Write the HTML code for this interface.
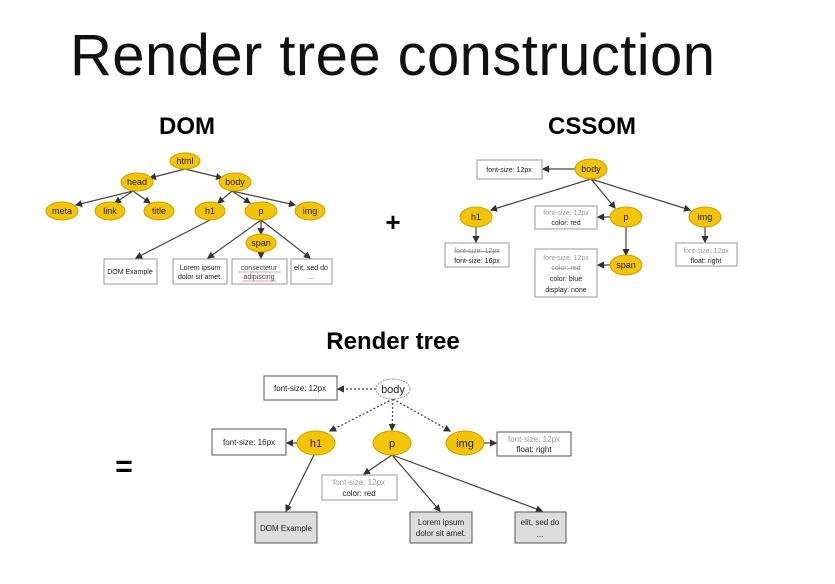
<!DOCTYPE html>
<html><head><style>
html,body{margin:0;padding:0;background:#fff;}
svg{display:block;font-family:"Liberation Sans",sans-serif;}
</style></head><body>
<svg width="835" height="584" viewBox="0 0 835 584" xmlns="http://www.w3.org/2000/svg">
<defs>
<marker id="a" markerWidth="6" markerHeight="6" refX="5" refY="3" orient="auto"><path d="M0,0 L6,3 L0,6 z" fill="#333"/></marker>
</defs>
<text x="70" y="75" font-size="58" fill="#111" textLength="645" lengthAdjust="spacing">Render tree construction</text>
<text x="187" y="134" font-size="24" font-weight="bold" text-anchor="middle">DOM</text>
<text x="592" y="134" font-size="24" font-weight="bold" text-anchor="middle">CSSOM</text>
<text x="393" y="349" font-size="24" font-weight="bold" text-anchor="middle">Render tree</text>
<text x="393" y="231" font-size="26" font-weight="bold" text-anchor="middle">+</text>
<text x="124" y="476" font-size="30" font-weight="bold" text-anchor="middle">=</text>

<g stroke="#444" stroke-width="1.2" fill="none" marker-end="url(#a)">
<line x1="185" y1="169" x2="150" y2="178"/>
<line x1="185" y1="169" x2="222" y2="178"/>
<line x1="133" y1="191" x2="76" y2="205"/>
<line x1="133" y1="191" x2="115" y2="203"/>
<line x1="133" y1="191" x2="150" y2="203"/>
<line x1="232" y1="191" x2="218" y2="203"/>
<line x1="232" y1="191" x2="250" y2="203"/>
<line x1="232" y1="191" x2="295" y2="205"/>
<line x1="210" y1="220" x2="136" y2="258"/>
<line x1="261" y1="220" x2="208" y2="258"/>
<line x1="261" y1="220" x2="261" y2="234"/>
<line x1="261" y1="220" x2="310" y2="258"/>
<line x1="261" y1="252" x2="261" y2="258"/>
<line x1="575" y1="169" x2="543" y2="169"/>
<line x1="591" y1="179" x2="491" y2="210"/>
<line x1="591" y1="179" x2="615" y2="208"/>
<line x1="591" y1="179" x2="690" y2="210"/>
<line x1="476" y1="226" x2="476" y2="242"/>
<line x1="610" y1="217" x2="598" y2="217"/>
<line x1="626" y1="226" x2="626" y2="255"/>
<line x1="610" y1="265" x2="598" y2="265"/>
<line x1="705" y1="226" x2="705" y2="242"/>
<line x1="376" y1="389" x2="338" y2="389" stroke-dasharray="2,2"/>
<line x1="393" y1="399" x2="330" y2="431" stroke-dasharray="2,2"/>
<line x1="393" y1="399" x2="392" y2="430" stroke-dasharray="2,2"/>
<line x1="393" y1="399" x2="450" y2="431" stroke-dasharray="2,2"/>
<line x1="297" y1="443" x2="287" y2="443"/>
<line x1="484" y1="443" x2="496" y2="443"/>
<line x1="314" y1="455" x2="286" y2="511"/>
<line x1="392" y1="455" x2="364" y2="474"/>
<line x1="392" y1="455" x2="440" y2="511"/>
<line x1="392" y1="455" x2="542" y2="511"/>
</g>

<g fill="#f5c400" stroke="#c9a000" stroke-width="1">
<ellipse cx="185" cy="161" rx="15" ry="8"/>
<ellipse cx="137" cy="182" rx="16" ry="9"/>
<ellipse cx="235" cy="182" rx="16" ry="9"/>
<ellipse cx="62" cy="211" rx="16" ry="9"/>
<ellipse cx="110" cy="211" rx="15" ry="9"/>
<ellipse cx="159" cy="211" rx="15" ry="9"/>
<ellipse cx="210" cy="211" rx="15" ry="9"/>
<ellipse cx="261" cy="211" rx="16" ry="9"/>
<ellipse cx="310" cy="211" rx="15" ry="9"/>
<ellipse cx="261" cy="243" rx="15" ry="9"/>
<ellipse cx="591" cy="169" rx="16" ry="10"/>
<ellipse cx="476" cy="217" rx="16" ry="10"/>
<ellipse cx="626" cy="217" rx="16" ry="10"/>
<ellipse cx="705" cy="217" rx="16" ry="10"/>
<ellipse cx="626" cy="265" rx="16" ry="10"/>
<ellipse cx="316" cy="443" rx="19" ry="12"/>
<ellipse cx="392" cy="443" rx="19" ry="12"/>
<ellipse cx="465" cy="443" rx="19" ry="12"/>
</g>
<ellipse cx="393" cy="389" rx="17" ry="10" fill="#fff" stroke="#999" stroke-dasharray="2,1"/>

<g font-size="9" text-anchor="middle" fill="#222">
<text x="185" y="164">html</text><text x="137" y="185">head</text><text x="235" y="185">body</text>
<text x="62" y="214">meta</text><text x="110" y="214">link</text><text x="159" y="214">title</text>
<text x="210" y="214">h1</text><text x="261" y="214">p</text><text x="310" y="214">img</text>
<text x="261" y="246">span</text>
<text x="591" y="172">body</text><text x="476" y="220">h1</text><text x="626" y="220">p</text>
<text x="705" y="220">img</text><text x="626" y="268">span</text>
<g font-size="11"><text x="393" y="393">body</text><text x="316" y="447">h1</text><text x="392" y="447">p</text><text x="465" y="447">img</text></g>
</g>

<g fill="#fff" stroke="#999" stroke-width="1">
<rect x="104" y="259" width="53" height="25"/><rect x="173" y="259" width="54" height="25"/>
<rect x="232" y="259" width="55" height="25"/><rect x="291" y="259" width="41" height="25"/>
<rect x="477" y="160" width="65" height="19"/><rect x="445" y="243" width="64" height="24"/>
<rect x="535" y="206" width="62" height="23"/><rect x="676" y="243" width="61" height="23"/>
<rect x="535" y="249" width="62" height="48"/>
<rect x="264" y="376" width="73" height="24" stroke="#555"/><rect x="212" y="429" width="74" height="26" stroke="#555"/>
<rect x="497" y="432" width="74" height="24" stroke="#555"/><rect x="322" y="475" width="75" height="25"/>
</g>
<g fill="#ddd" stroke="#555"><rect x="255" y="512" width="62" height="31"/><rect x="410" y="512" width="62" height="31"/><rect x="515" y="512" width="51" height="31"/></g>

<g font-size="7" text-anchor="middle" fill="#222">
<text x="130" y="274">DOM Example</text>
<text x="200" y="270">Lorem ipsum</text><text x="200" y="279">dolor sit amet.</text>
<text x="259" y="270" fill="#444">consectetur</text><text x="259" y="279" fill="#444">adipiscing</text>
<line x1="238" y1="272" x2="281" y2="272" stroke="#c44" stroke-width=".6"/>
<line x1="242" y1="281" x2="276" y2="281" stroke="#c44" stroke-width=".6"/>
<text x="311" y="270">elit, sed do</text><text x="311" y="279">...</text>
<text x="509" y="172">font-size: 12px</text>
<text x="477" y="253" fill="#888" text-decoration="line-through">font-size: 12px</text><text x="477" y="263">font-size: 16px</text>
<text x="566" y="215" fill="#999">font-size: 12px</text><text x="566" y="225">color: red</text>
<text x="706" y="253" fill="#999">font-size: 12px</text><text x="706" y="263">float: right</text>
<text x="566" y="260" fill="#999">font-size: 12px</text><text x="566" y="270" fill="#999" text-decoration="line-through">color: red</text>
<text x="566" y="281">color: blue</text><text x="566" y="292">display: none</text>
<g font-size="8">
<text x="300" y="391">font-size: 12px</text><text x="249" y="445">font-size: 16px</text>
<text x="534" y="442" fill="#999">font-size: 12px</text><text x="534" y="452">float: right</text>
<text x="359" y="485" fill="#999">font-size: 12px</text><text x="359" y="496">color: red</text>
<text x="286" y="531">DOM Example</text>
<text x="441" y="525">Lorem ipsum</text><text x="441" y="536">dolor sit amet.</text>
<text x="540" y="525">elit, sed do</text><text x="540" y="537">...</text>
</g></g>
</svg>
</body></html>
